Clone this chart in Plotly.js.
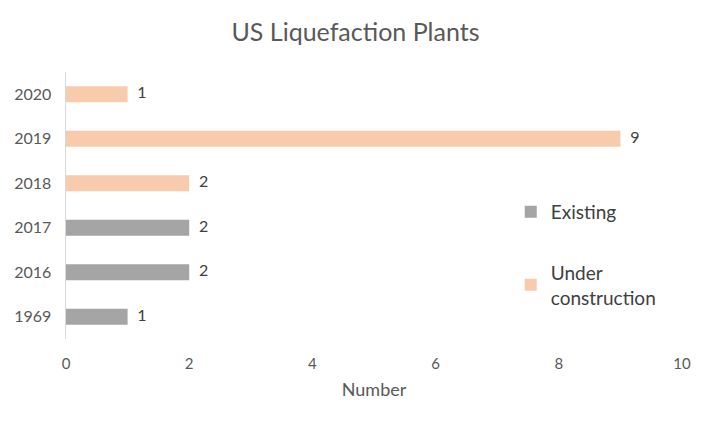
<!DOCTYPE html>
<html>
<head>
<meta charset="utf-8">
<script src="https://cdn.plot.ly/plotly-3.0.1.min.js"></script>
<style>html,body{margin:0;padding:0;background:#fff;}#chart{width:711px;height:424px;}</style>
</head>
<body>
<div id="chart"></div>
<script>
const categories = ['1969', '2016', '2017', '2018', '2019', '2020'];
const existingYears = ['1969', '2016', '2017'];
const existingValues = [1, 2, 2];
const constructionYears = ['2018', '2019', '2020'];
const constructionValues = [2, 9, 1];
const xTicks = [0, 2, 4, 6, 8, 10];

const FONT = 'Lato, "Open Sans", sans-serif';

const labelTrace = (ys, xs) => ({
  type: 'scatter', mode: 'markers+text', showlegend: false, hoverinfo: 'skip',
  x: xs, y: ys, text: xs.map(String), textposition: 'middle right', cliponaxis: false,
  marker: {size: 14, opacity: 0, color: '#fff'},
  textfont: {family: FONT, size: 16, color: '#404040'}
});

const traces = [
  {
    type: 'bar', orientation: 'h', name: 'Existing', legendgroup: 'a',
    y: existingYears, x: existingValues,
    marker: {color: '#a5a5a5'}
  },
  {
    type: 'bar', orientation: 'h', name: 'Under<br>construction', legendgroup: 'b',
    y: constructionYears, x: constructionValues,
    marker: {color: '#f8cbad'}
  },
  labelTrace(existingYears, existingValues),
  labelTrace(constructionYears, constructionValues)
];

const layout = {
  width: 711, height: 424,
  margin: {l: 66, r: 29, t: 72, b: 85},
  paper_bgcolor: '#fff', plot_bgcolor: '#fff',
  font: {family: FONT, color: '#595959'},
  title: {text: 'US Liquefaction Plants', font: {family: FONT, size: 25, color: '#595959'}, x: 0.5, xanchor: 'center', y: 0.925, yanchor: 'middle'},
  barmode: 'overlay',
  bargap: 0.64,
  showlegend: true,
  legend: {x: 0.722, xanchor: 'left', y: 0.315, yanchor: 'middle', font: {family: FONT, size: 19, color: '#404040'}, traceorder: 'grouped', tracegroupgap: 33, bgcolor: 'rgba(0,0,0,0)'},
  xaxis: {
    range: [0, 10], tickvals: xTicks, ticktext: xTicks.map(String),
    showgrid: false, zeroline: false, showline: false, ticks: '',
    ticklabelstandoff: 14,
    tickfont: {family: FONT, size: 15, color: '#595959'},
    title: {text: 'Number', font: {family: FONT, size: 18, color: '#595959'}, standoff: 12}
  },
  yaxis: {
    type: 'category', categoryorder: 'array', categoryarray: categories,
    range: [-0.5, 5.5],
    showgrid: false, zeroline: false, showline: true, linecolor: '#d9d9d9', linewidth: 1.5,
    ticks: '', ticklabelstandoff: 10,
    tickfont: {family: FONT, size: 16, color: '#595959'}
  }
};

Plotly.newPlot('chart', traces, layout, {displayModeBar: false, staticPlot: true});
</script>
</body>
</html>
